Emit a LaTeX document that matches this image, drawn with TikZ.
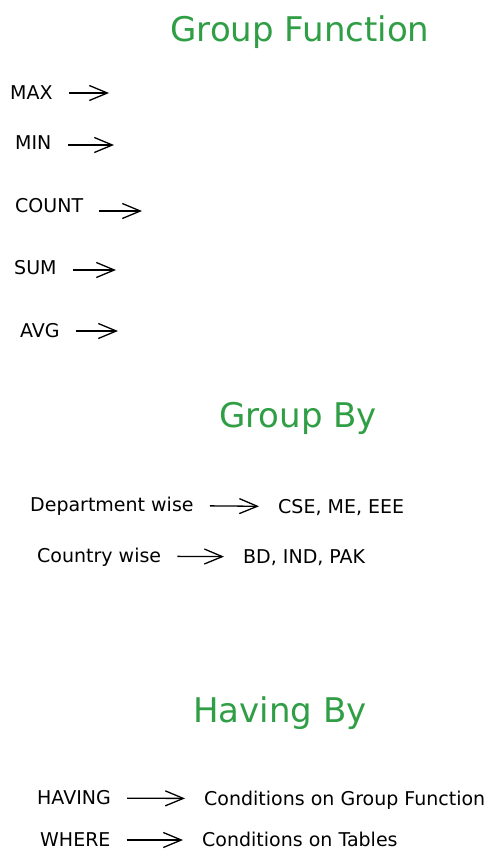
\documentclass[tikz,border=0pt]{standalone}
\usepackage{fontspec}
\setmainfont{DejaVu Sans}
\usetikzlibrary{arrows.meta}
\definecolor{titlegreen}{HTML}{2F9E44}

\begin{document}
\begin{tikzpicture}[x=1pt, y=-1pt,
    txt/.style={anchor=west, inner sep=0pt, text height=14pt, text depth=1pt, font=\fontsize{19}{22}\selectfont},
    ttl/.style={text=titlegreen, font=\fontsize{34}{40}\selectfont},
    arr/.style={line width=1.3pt, -{Straight Barb[length=18pt, width=15pt]}, shorten <=16pt},
    link/.style={arr, shorten >=19pt}]
    \fill[white] (0,0) rectangle (495,864);
    \useasboundingbox (0,0) rectangle (495,864);

    % group functions
    \node[ttl] (gft) at (300,32) {Group Function};
    \node[txt] (max) at (10,93) {MAX};
    \node[txt] (min) at (15,143) {MIN};
    \node[txt] (count) at (15,206) {COUNT};
    \node[txt] (sum) at (14,268) {SUM};
    \node[txt] (avg) at (20,331) {AVG};
    \coordinate (maxtip) at (109,93);
    \coordinate (mintip) at (114,145);
    \coordinate (counttip) at (142,211);
    \coordinate (sumtip) at (116,270);
    \coordinate (avgtip) at (118,331);
    \draw[arr] (max.east |- maxtip) -- (maxtip);
    \draw[arr] (min.east |- mintip) -- (mintip);
    \draw[arr] (count.east |- counttip) -- (counttip);
    \draw[arr] (sum.east |- sumtip) -- (sumtip);
    \draw[arr] (avg.east |- avgtip) -- (avgtip);

    % group by
    \node[ttl] (gbt) at (298,418) {Group By};
    \node[txt] (dept) at (30,505) {Department wise};
    \node[txt] (cse) at (278,507) {CSE, ME, EEE};
    \node[txt] (country) at (37,556) {Country wise};
    \node[txt] (bd) at (243,557) {BD, IND, PAK};
    \draw[link] (dept) -- (cse);
    \draw[link] (country) -- (bd);

    % having by
    \node[ttl] (hbt) at (280,713) {Having By};
    \node[txt] (having) at (37,798) {HAVING};
    \node[txt] (condgf) at (204,799) {Conditions on Group Function};
    \node[txt] (where) at (40,840) {WHERE};
    \node[txt] (condtab) at (202,840) {Conditions on Tables};
    \draw[link] (having) -- (condgf);
    \draw[link] (where) -- (condtab);
\end{tikzpicture}
\end{document}
